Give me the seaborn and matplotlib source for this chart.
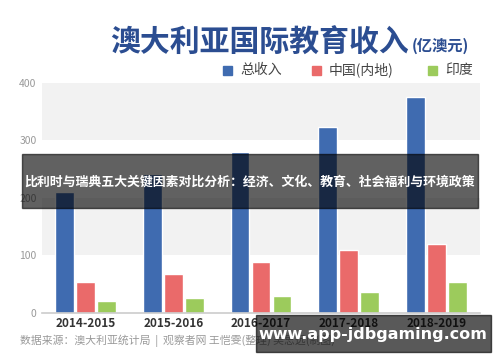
import matplotlib
matplotlib.use("Agg")
import matplotlib.pyplot as plt
from matplotlib.patches import Rectangle
import pandas as pd
import seaborn as sns

years = ["2014-2015", "2015-2016", "2016-2017", "2017-2018", "2018-2019"]
series = ["总收入", "中国(内地)", "印度"]
total = [211, 242, 280, 323, 376]
china = [54, 68, 88, 110, 120]
india = [21, 25, 29, 36, 54]
colors = ["#3f6bb0", "#ea6a6a", "#9ccb5c"]

df = pd.DataFrame({
    "year": years * 3,
    "series": [series[0]] * 5 + [series[1]] * 5 + [series[2]] * 5,
    "value": total + china + india,
})

sns.set_theme(style="white")
plt.rcParams['font.family'] = ['Noto Sans CJK SC', 'DejaVu Sans']

fig = plt.figure(figsize=(5, 3.62), dpi=100)
ax = fig.add_axes([0.084, 0.136, 0.876, 0.635])

ax.axhspan(100, 200, color="#f2f2f2", zorder=0, lw=0)
ax.axhspan(300, 400, color="#f2f2f2", zorder=0, lw=0)

sns.barplot(data=df, x="year", y="value", hue="series", palette=colors,
            saturation=1, width=0.72, gap=0.1, ax=ax, legend=False, zorder=2)

ax.set_ylim(0, 400)
ax.set_xlim(-0.5, 4.5)
ax.set_yticks([0, 100, 200, 300, 400])
ax.set_xlabel("")
ax.set_ylabel("")
ax.tick_params(axis="y", labelsize=7.5, labelcolor="#999999", length=0, pad=4)
ax.tick_params(axis="x", labelsize=8.5, labelcolor="#333333", length=0, pad=3)
for lbl in ax.get_xticklabels():
    lbl.set_fontweight("bold")
for s in ["top", "right", "left"]:
    ax.spines[s].set_visible(False)
ax.spines["bottom"].set_color("#cccccc")
ax.spines["bottom"].set_linewidth(1.2)

# title
fig.text(110 / 500, 1 - 43 / 362, "澳大利亚国际教育收入", fontsize=21.5,
         fontweight="heavy", color="#2b4d91", va="center", ha="left")
fig.text(412 / 500, 1 - 46 / 362, "(亿澳元)", fontsize=11,
         fontweight="heavy", color="#2b4d91", va="center", ha="left")

# legend
leg_x = [223, 312, 428]
for x, name, c in zip(leg_x, series, colors):
    fig.patches.append(Rectangle((x / 500, 1 - 75 / 362), 9 / 500, 9 / 362,
                                 transform=fig.transFigure, color=c))
    fig.text((x + 17) / 500, 1 - 70 / 362, name, fontsize=10,
             color="#444444", va="center", ha="left")

# source
fig.text(20 / 500, 1 - 341 / 362,
         "数据来源：澳大利亚统计局  |  观察者网 王恺雯(整理) 吴思远(制图)",
         fontsize=7.8, color="#999999", va="center", ha="left")

# overlay band
fig.patches.append(Rectangle((22 / 500, 1 - 208 / 362), 456 / 500, 54 / 362,
                             transform=fig.transFigure, color="black",
                             alpha=0.62, zorder=10))
fig.text(250 / 500, 1 - 182 / 362,
         "比利时与瑞典五大关键因素对比分析：经济、文化、教育、社会福利与环境政策",
         fontsize=9.3, fontweight="bold", color="white", va="center",
         ha="center", zorder=11)

# watermark
fig.patches.append(Rectangle((256 / 500, 1 - 352 / 362), 235 / 500, 37 / 362,
                             transform=fig.transFigure, color="black",
                             alpha=0.65, zorder=10))
fig.text(373 / 500, 1 - 334 / 362, "www.app-jdbgaming.com", fontsize=11.5,
         fontweight="bold", color="white", va="center", ha="center",
         family="DejaVu Sans", zorder=11)

fig.savefig("out.png", dpi=100)
